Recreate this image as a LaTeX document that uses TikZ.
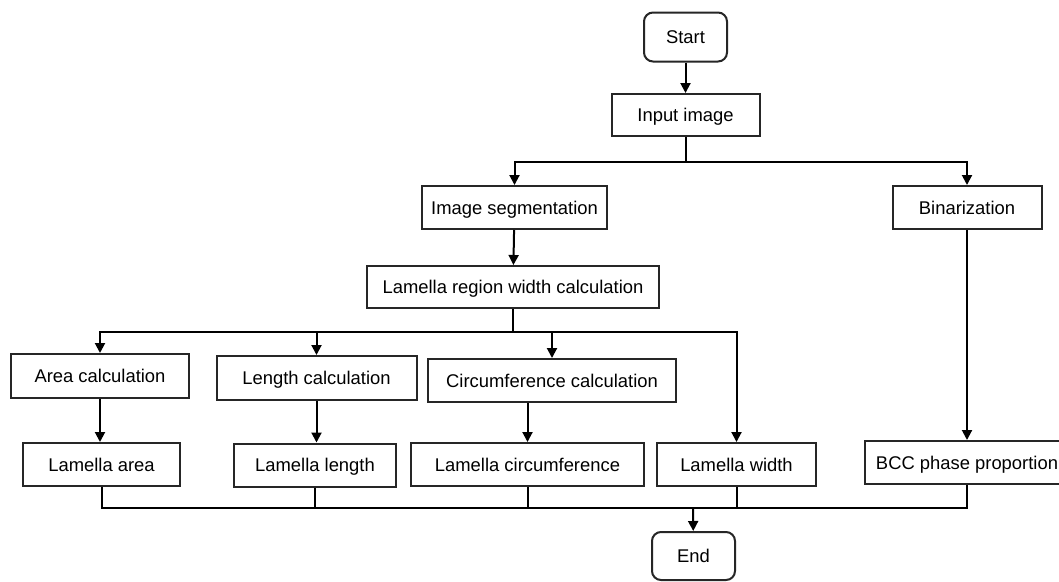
\documentclass[tikz,border=0pt]{standalone}
\usepackage{fontspec}
\setmainfont{Liberation Sans}
\usetikzlibrary{arrows.meta}
\begin{document}
\begin{tikzpicture}[x=1pt,y=-1pt,
  box/.style={draw=black!85,line width=2pt,inner sep=0pt,align=center,
    text height=17pt,text depth=3.8pt,
    font=\fontsize{18.4}{22}\selectfont},
  term/.style={box,rounded corners=9pt},
  line/.style={line width=2pt,black},
  arr/.style={line,-{Triangle[length=10pt,width=10pt]}}]
\useasboundingbox (0,0) rectangle (1059,581);
\clip (0,0) rectangle (1059,581);
\fill[white] (0,0) rectangle (1059,581);
\node[term,minimum width=83pt,minimum height=49pt] (start) at (685.5,37) {Start};
\node[box,minimum width=148pt,minimum height=42pt] (input) at (685.5,115) {Input image};
\node[box,minimum width=185pt,minimum height=43pt] (seg) at (514.5,207.5) {Image segmentation};
\node[box,minimum width=149pt,minimum height=43pt] (bin) at (967,207.5) {Binarization};
\node[box,minimum width=292pt,minimum height=42pt] (region) at (513,287) {Lamella region width calculation};
\node[box,minimum width=178pt,minimum height=44pt] (area) at (100,376) {Area calculation};
\node[box,minimum width=200pt,minimum height=44pt] (len) at (316.5,378) {Length calculation};
\node[box,minimum width=248pt,minimum height=43pt] (circ) at (552,380.5) {Circumference calculation};
\node[box,minimum width=157pt,minimum height=43pt] (larea) at (101.5,464.5) {Lamella area};
\node[box,minimum width=162pt,minimum height=43pt] (llen) at (315,465) {Lamella length};
\node[box,minimum width=233pt,minimum height=43pt] (lcirc) at (527.5,464.5) {Lamella circumference};
\node[box,minimum width=159pt,minimum height=43pt] (lwidth) at (736.5,464.5) {Lamella width};
\node[box,minimum width=204pt,minimum height=43pt] (bcc) at (967,462.5) {BCC phase proportion};
\node[term,minimum width=83pt,minimum height=48pt] (end) at (693.5,556) {End};
\coordinate (j0) at (685.5,161.5);
\coordinate (j1) at (513,331.5);
\coordinate (j2) at (693,508);
\draw[arr] (start) -- (input);
\draw[line] (input) -- (j0);
\draw[arr] (j0) -| (seg.north);
\draw[arr] (j0) -| (bin.north);
\draw[arr] (seg) -- (region);
\draw[line] (region) -- (j1);
\draw[arr] (j1) -| (area.north);
\draw[arr] (j1) -| (len.north);
\draw[arr] (j1) -| (circ.north);
\draw[arr] (j1) -| (lwidth.north);
\draw[arr] (area) -- (area.south |- larea.north);
\draw[arr] (len) -- (len.south |- llen.north);
\draw[arr] (lcirc.north |- circ.south) -- (lcirc.north);
\draw[arr] (bin) -- (bcc);
\draw[line] (larea.south) |- (j2);
\draw[line] (bcc.south) |- (j2);
\draw[line] (llen.south) -- (llen.south |- j2);
\draw[line] (lcirc.south) -- (lcirc.south |- j2);
\draw[line] (lwidth.south) -- (lwidth.south |- j2);
\draw[arr] (j2) -- (end);
\end{tikzpicture}
\end{document}
